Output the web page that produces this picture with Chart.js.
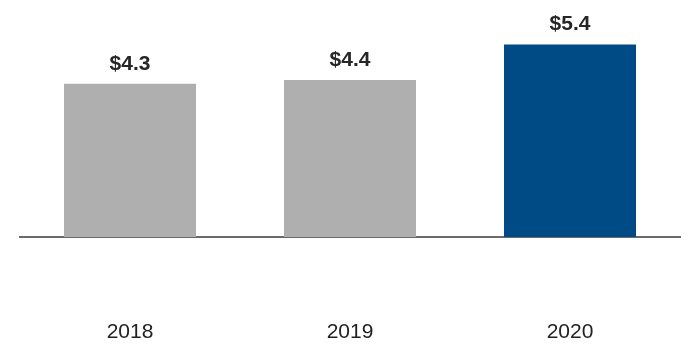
<!DOCTYPE html>
<html>
<head>
<meta charset="utf-8">
<script src="https://cdn.jsdelivr.net/npm/chart.js@4/dist/chart.umd.min.js"></script>
<style>
  html, body { margin: 0; padding: 0; background: #fff; }
  #wrap { width: 700px; height: 360px; }
</style>
</head>
<body>
<div id="wrap"><canvas id="myChart" width="700" height="360"></canvas></div>
<script>
// data
var years = ['2018', '2019', '2020'];
var values = [4.3, 4.4, 5.4];
var barColors = ['#afafaf', '#afafaf', '#004a85'];

// draws the "$x.x" labels over each bar
var valueLabels = {
    id: 'valueLabels',
    afterDatasetsDraw: function(chart) {
        var ctx = chart.ctx;
        var meta = chart.getDatasetMeta(0);
        ctx.save();
        ctx.font = 'bold 21px "Liberation Sans", Arial, sans-serif';
        ctx.fillStyle = '#262626';
        ctx.textAlign = 'center';
        ctx.textBaseline = 'alphabetic';
        meta.data.forEach(function(bar, i) {
            ctx.fillText('$' + values[i].toFixed(1), bar.x, bar.y - 14);
        });
        ctx.restore();
    }
};

var ctx = document.getElementById('myChart');
var myChart = new Chart(ctx, {
    type: 'bar',
    data: {
        labels: years,
        datasets: [{
            data: values,
            backgroundColor: barColors,
            borderWidth: 0,
            categoryPercentage: 1,
            barPercentage: 0.6
        }]
    },
    options: {
        responsive: false,
        animation: false,
        layout: { padding: { left: 20, right: 20, top: 23, bottom: 17 } },
        plugins: {
            legend: { display: false },
            tooltip: { enabled: false }
        },
        scales: {
            x: {
                grid: { display: false, drawTicks: false },
                border: { display: true, color: '#6b6b6b', width: 2 },
                ticks: {
                    padding: 83,
                    color: '#222',
                    font: { family: '"Liberation Sans", Arial, sans-serif', size: 21 }
                },
                afterFit: function(scale) { scale.height = 106; }
            },
            y: {
                display: false,
                min: 0,
                max: 6
            }
        }
    },
    plugins: [valueLabels]
});
</script>
</body>
</html>
